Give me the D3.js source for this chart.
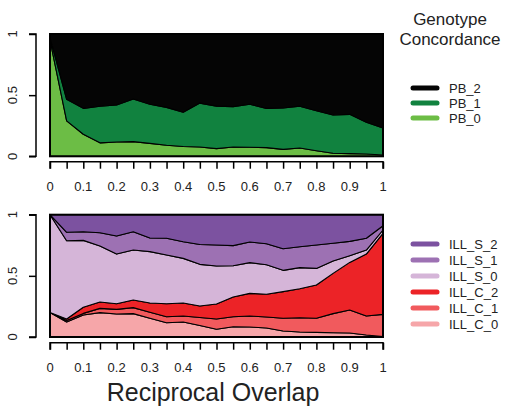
<!DOCTYPE html>
<html>
<head>
<meta charset="utf-8">
<script src="https://cdn.jsdelivr.net/npm/d3@7"></script>
<style>
  html, body { margin: 0; padding: 0; background: #fff; }
  svg { display: block; font-family: "Liberation Sans", Arial, sans-serif; }
</style>
</head>
<body>
<svg id="chart" width="507" height="409"></svg>
<script>
// Reciprocal overlap thresholds (x positions of each sample)
const overlap = [0, 0.05, 0.1, 0.15, 0.2, 0.25, 0.3, 0.35, 0.4, 0.45, 0.5,
                 0.55, 0.6, 0.65, 0.7, 0.75, 0.8, 0.85, 0.9, 0.95, 1];

// Top panel: PacBio genotype concordance fractions
const PB_0 = [0.95, 0.29, 0.18, 0.11, 0.117, 0.12, 0.106, 0.09, 0.08, 0.076, 0.063,
              0.076, 0.074, 0.071, 0.057, 0.068, 0.046, 0.025, 0.022, 0.019, 0.011];
const PB_1 = [0.02, 0.176, 0.212, 0.299, 0.303, 0.349, 0.319, 0.31, 0.28, 0.359, 0.347,
              0.33, 0.351, 0.321, 0.338, 0.342, 0.327, 0.313, 0.321, 0.259, 0.221];
const PB_2 = [0.03, 0.534, 0.608, 0.591, 0.58, 0.531, 0.575, 0.60, 0.64, 0.565, 0.59,
              0.594, 0.575, 0.608, 0.605, 0.59, 0.627, 0.662, 0.657, 0.722, 0.768];

// Bottom panel: Illumina genotype concordance fractions
const ILL_C_0 = [0.20, 0.123, 0.18, 0.199, 0.188, 0.191, 0.153, 0.117, 0.123, 0.094, 0.063,
                 0.084, 0.082, 0.074, 0.049, 0.041, 0.038, 0.035, 0.033, 0.016, 0.003];
const ILL_C_1 = [0, 0.011, 0.013, 0.035, 0.038, 0.049, 0.049, 0.049, 0.049, 0.066, 0.084,
                 0.082, 0.09, 0.089, 0.104, 0.117, 0.115, 0.156, 0.188, 0.156, 0.182];
const ILL_C_2 = [0, 0.013, 0.05, 0.052, 0.046, 0.062, 0.076, 0.106, 0.106, 0.093, 0.123,
                 0.161, 0.185, 0.186, 0.218, 0.237, 0.272, 0.329, 0.389, 0.506, 0.662];
const ILL_S_0 = [0.8, 0.64, 0.547, 0.458, 0.406, 0.409, 0.42, 0.398, 0.365, 0.341, 0.31,
                 0.256, 0.251, 0.242, 0.174, 0.172, 0.136, 0.101, 0.055, 0.033, 0.028];
const ILL_S_1 = [0, 0.069, 0.071, 0.109, 0.148, 0.15, 0.111, 0.137, 0.136, 0.162, 0.172,
                 0.164, 0.169, 0.172, 0.177, 0.171, 0.191, 0.145, 0.117, 0.096, 0.035];
const ILL_S_2 = [0, 0.144, 0.139, 0.147, 0.174, 0.139, 0.191, 0.193, 0.221, 0.244, 0.248,
                 0.253, 0.223, 0.237, 0.278, 0.262, 0.248, 0.234, 0.218, 0.193, 0.09];

// Axis tick labels
const xTickLabels = [0, 0.1, 0.2, 0.3, 0.4, 0.5, 0.6, 0.7, 0.8, 0.9, 1];
const yTickLabels = [0, 0.5, 1];

const topKeys = ["PB_0", "PB_1", "PB_2"];
const topColors = ["#6cbd45", "#11823f", "#050505"];
const bottomKeys = ["ILL_C_0", "ILL_C_1", "ILL_C_2", "ILL_S_0", "ILL_S_1", "ILL_S_2"];
const bottomColors = ["#f6a6a9", "#f15a5d", "#ec2327", "#d5b5d8", "#9d71b3", "#7c52a0"];

const topSeries = { PB_0, PB_1, PB_2 };
const bottomSeries = { ILL_C_0, ILL_C_1, ILL_C_2, ILL_S_0, ILL_S_1, ILL_S_2 };

const svg = d3.select("#chart");
const x = d3.scaleLinear().domain([0, 1]).range([50, 383]);
const txtColor = "#222";

function drawPanel(series, keys, colors, yTop, yBottom, axisY) {
  const y = d3.scaleLinear().domain([0, 1]).range([yBottom, yTop]);
  const rows = overlap.map((o, i) => {
    const r = { o };
    keys.forEach(k => { r[k] = series[k][i]; });
    return r;
  });
  const stacked = d3.stack().keys(keys)(rows);
  const area = d3.area()
    .x(d => x(d.data.o))
    .y0(d => y(d[0]))
    .y1(d => y(d[1]));

  const g = svg.append("g");
  g.selectAll("path.layer")
    .data(stacked)
    .join("path")
    .attr("class", "layer")
    .attr("d", area)
    .attr("fill", (d, i) => colors[i])
    .attr("stroke", "#000")
    .attr("stroke-width", 1.1)
    .attr("stroke-linejoin", "round");

  // plot frame
  g.append("rect")
    .attr("x", x(0)).attr("y", y(1))
    .attr("width", x(1) - x(0)).attr("height", y(0) - y(1))
    .attr("fill", "none").attr("stroke", "#000").attr("stroke-width", 2);

  // y axis
  const yAxis = d3.axisLeft(y).tickValues(yTickLabels).tickSize(7).tickFormat("");
  const ya = svg.append("g").attr("transform", "translate(36,0)").call(yAxis);
  ya.select(".domain").attr("d", `M-7,${y(0)}H0V${y(1)}H-7`).attr("stroke-width", 1.5);
  ya.selectAll(".tick line").attr("stroke-width", 1.5);
  yTickLabels.forEach(v => {
    svg.append("text")
      .attr("transform", `translate(17,${y(v)}) rotate(-90)`)
      .attr("text-anchor", "middle")
      .attr("font-size", 13)
      .attr("fill", txtColor)
      .text(v === 0.5 ? "0.5" : String(v));
  });

  // x axis
  const xAxis = d3.axisBottom(x).tickValues(overlap).tickSize(7).tickFormat("");
  const xa = svg.append("g").attr("transform", `translate(0,${axisY})`).call(xAxis);
  xa.select(".domain").attr("d", `M${x(0)},7V0H${x(1)}V7`).attr("stroke-width", 1.5);
  xa.selectAll(".tick line").attr("stroke-width", 1.5);
  xTickLabels.forEach(v => {
    svg.append("text")
      .attr("x", x(v)).attr("y", axisY + 29)
      .attr("text-anchor", "middle")
      .attr("font-size", 13)
      .attr("fill", txtColor)
      .text(String(v));
  });
}

drawPanel(topSeries, topKeys, topColors, 34, 156.3, 161.7);
drawPanel(bottomSeries, bottomKeys, bottomColors, 214.7, 337, 342.7);

// x axis title
svg.append("text")
  .attr("x", 213).attr("y", 401)
  .attr("text-anchor", "middle")
  .attr("font-size", 25)
  .attr("fill", txtColor)
  .text("Reciprocal Overlap");

// legend title
svg.append("text").attr("x", 450).attr("y", 25).attr("text-anchor", "middle")
  .attr("font-size", 17).attr("fill", txtColor).text("Genotype");
svg.append("text").attr("x", 450).attr("y", 45).attr("text-anchor", "middle")
  .attr("font-size", 17).attr("fill", txtColor).text("Concordance");

function legend(keys, colors, yStart, step) {
  const items = keys.map((k, i) => ({ k, c: colors[i] })).reverse();
  const g = svg.append("g");
  items.forEach((d, i) => {
    const yy = yStart + i * step;
    g.append("line")
      .attr("x1", 413).attr("x2", 437).attr("y1", yy).attr("y2", yy)
      .attr("stroke", d.c).attr("stroke-width", 5).attr("stroke-linecap", "round");
    g.append("text")
      .attr("x", 449).attr("y", yy + 4.5)
      .attr("font-size", 13).attr("fill", txtColor)
      .text(d.k);
  });
}
legend(topKeys, topColors, 88, 15);
legend(bottomKeys, bottomColors, 244, 16);
</script>
</body>
</html>
